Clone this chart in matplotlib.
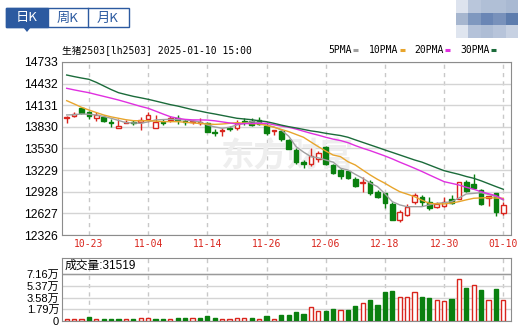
import numpy as np
import matplotlib.pyplot as plt
from matplotlib.patches import Rectangle, Polygon

plt.rcParams['font.family'] = ['Liberation Sans', 'Noto Sans CJK SC', 'DejaVu Sans']

# trading days shown (2024-10-18 .. 2025-01-10)
dates = ['10-18', '10-21', '10-22', '10-23', '10-24', '10-25', '10-28', '10-29', '10-30', '10-31',
         '11-01', '11-04', '11-05', '11-06', '11-07', '11-08', '11-11', '11-12', '11-13', '11-14',
         '11-15', '11-18', '11-19', '11-20', '11-21', '11-22', '11-25', '11-26', '11-27', '11-28',
         '11-29', '12-02', '12-03', '12-04', '12-05', '12-06', '12-09', '12-10', '12-11', '12-12',
         '12-13', '12-16', '12-17', '12-18', '12-19', '12-20', '12-23', '12-24', '12-25', '12-26',
         '12-27', '12-30', '12-31', '01-02', '01-03', '01-06', '01-07', '01-08', '01-09', '01-10']
tick_dates = ['10-23', '11-04', '11-14', '11-26', '12-06', '12-18', '12-30', '01-10']

opens = [13950, 13985, 14090, 14040, 13960, 13965, 13905, 13812, 13890, 13900,
         13895, 13935, 13815, 13900, 13920, 13950, 13915, 13895, 13885, 13880,
         13760, 13770, 13810, 13815, 13910, 13915, 13920, 13843, 13770, 13770,
         13650, 13510, 13335, 13310, 13390, 13555, 13300, 13230, 13210, 13100,
         13045, 13070, 12930, 12905, 12760, 12535, 12605, 12790, 12860, 12790,
         12720, 12735, 12830, 12830, 13070, 13035, 12955, 12835, 12905, 12630]
highs = [13975, 14040, 14100, 14053, 14040, 13990, 13935, 13936, 13920, 13920,
         13964, 14033, 14000, 13940, 13975, 14000, 13935, 13925, 13950, 13895,
         13800, 13810, 13840, 13930, 13955, 13950, 13965, 13900, 13790, 13790,
         13660, 13535, 13370, 13530, 13490, 13560, 13310, 13250, 13220, 13130,
         13130, 13090, 12950, 12910, 12780, 12680, 12760, 12910, 12880, 12860,
         12790, 12850, 12880, 13070, 13090, 13180, 12960, 12870, 12910, 12780]
lows = [13880, 13970, 14010, 13944, 13917, 13900, 13825, 13812, 13880, 13850,
        13787, 13903, 13815, 13850, 13905, 13870, 13850, 13865, 13860, 13755,
        13705, 13710, 13770, 13790, 13860, 13845, 13850, 13715, 13715, 13640,
        13520, 13320, 13255, 13290, 13340, 13300, 13170, 13100, 13110, 12990,
        12930, 12880, 12840, 12700, 12530, 12500, 12590, 12760, 12730, 12680,
        12700, 12710, 12760, 12820, 12920, 12970, 12750, 12730, 12590, 12610]
closes = [13965, 14010, 14020, 13975, 14000, 13913, 13890, 13843, 13903, 13880,
          13925, 13995, 13903, 13880, 13955, 13925, 13905, 13912, 13905, 13765,
          13750, 13780, 13800, 13890, 13895, 13860, 13875, 13740, 13790, 13655,
          13520, 13345, 13320, 13425, 13465, 13310, 13185, 13145, 13115, 13010,
          13070, 12910, 12860, 12770, 12535, 12650, 12720, 12880, 12790, 12700,
          12760, 12780, 12770, 13060, 12935, 12985, 12760, 12870, 12650, 12740]

ma5 = [13996, 14000, 14010, 14005, 13996, 13975, 13950, 13920, 13889, 13885,
       13880, 13900, 13927, 13932, 13936, 13930, 13927, 13915, 13900, 13857,
       13830, 13811, 13825, 13857, 13880, 13903, 13890, 13857, 13830, 13787,
       13700, 13555, 13480, 13416, 13400, 13370, 13340, 13255, 13231, 13170,
       13115, 13050, 12999, 12900, 12790, 12745, 12720, 12720, 12720, 12745,
       12767, 12775, 12790, 12840, 12897, 12905, 12915, 12890, 12860, 12813]
ma10 = [14195, 14150, 14103, 14065, 14030, 13996, 13970, 13950, 13930, 13917,
        13915, 13917, 13910, 13903, 13903, 13903, 13895, 13885, 13878, 13871,
        13865, 13870, 13880, 13889, 13882, 13875, 13871, 13850, 13825, 13795,
        13764, 13725, 13686, 13620, 13555, 13495, 13439, 13416, 13346, 13300,
        13230, 13162, 13100, 13046, 12985, 12929, 12895, 12860, 12810, 12767,
        12760, 12758, 12770, 12790, 12815, 12837, 12842, 12846, 12840, 12837]
ma20 = [14367, 14345, 14325, 14306, 14280, 14255, 14230, 14204, 14175, 14145,
        14115, 14089, 14050, 14010, 13972, 13950, 13935, 13928, 13927, 13925,
        13915, 13900, 13885, 13871, 13875, 13878, 13880, 13880, 13860, 13842,
        13825, 13800, 13770, 13741, 13715, 13686, 13660, 13640, 13611, 13570,
        13533, 13500, 13463, 13426, 13385, 13340, 13298, 13255, 13210, 13162,
        13115, 13068, 13045, 13022, 12990, 12962, 12929, 12900, 12874, 12820]
ma30 = [14552, 14530, 14510, 14492, 14450, 14400, 14350, 14306, 14280, 14255,
        14235, 14214, 14190, 14165, 14140, 14120, 14095, 14070, 14050, 14028,
        14010, 13990, 13970, 13950, 13940, 13930, 13915, 13903, 13880, 13855,
        13833, 13815, 13795, 13775, 13760, 13741, 13725, 13710, 13686, 13650,
        13615, 13580, 13545, 13509, 13475, 13440, 13405, 13370, 13340, 13300,
        13260, 13221, 13195, 13170, 13140, 13115, 13080, 13040, 13000, 12962]

volume = [2570, 2570, 2570, 5650, 2570, 2570, 2570, 2570, 2570, 2570,
          4100, 5140, 2570, 2570, 3080, 4100, 4100, 5140, 4100, 7200,
          4100, 2570, 3080, 5140, 4630, 5140, 3080, 7200, 3600, 8740,
          8740, 13360, 10280, 22100, 15420, 14900, 18000, 17480, 16450, 22600,
          27750, 31870, 24160, 44200, 45750, 37520, 37520, 45230, 36500, 34950,
          31870, 30330, 33410, 63740, 50370, 55000, 47290, 31870, 48830, 31519]
# 1 = red (up) volume bar, 0 = green
vol_up = [1, 1, 1, 0, 1, 0, 0, 0, 1, 0,
          1, 1, 0, 0, 1, 0, 0, 1, 0, 0,
          0, 1, 1, 1, 1, 0, 1, 0, 1, 0,
          0, 0, 0, 1, 1, 0, 0, 1, 0, 0,
          1, 0, 0, 0, 0, 1, 1, 1, 0, 0,
          1, 1, 0, 1, 0, 1, 0, 1, 0, 1]

price_ticks = [12326, 12627, 12928, 13229, 13530, 13830, 14131, 14432, 14733]
vol_ticks = [0, 17900, 35800, 53700, 71600]
vol_labels = ['0', '1.79万', '3.58万', '5.37万', '7.16万']

RED = '#d9251d'
GREEN = '#0a800f'
mono = ['DejaVu Sans Mono', 'Noto Sans CJK SC']

fig = plt.figure(figsize=(5.21, 3.27), dpi=100)
W, H = 521, 327

# full-figure overlay for tabs and header decorations (pixel coords)
deco = fig.add_axes([0, 0, 1, 1], zorder=5)
deco.set_xlim(0, W)
deco.set_ylim(H, 0)
deco.axis('off')
deco.add_patch(Rectangle((6, 8), 123, 19, facecolor='white', edgecolor='#2c5aa0', lw=1))
deco.add_patch(Rectangle((6, 8), 42, 19, facecolor='#2c5aa0', edgecolor='#2c5aa0', lw=1))
deco.add_patch(Polygon([[23, 27], [31, 27], [27, 32]], closed=True, facecolor='#2c5aa0', edgecolor='none'))
deco.plot([88, 88], [8, 27], color='#2c5aa0', lw=1)
for x, t, c in [(27, '日K', 'white'), (68, '周K', '#2c5aa0'), (108, '月K', '#2c5aa0')]:
    deco.text(x, 18, t, color=c, fontsize=9.5, ha='center', va='center', family=['Noto Sans CJK SC'])
deco.text(62, 50, '生猪2503[lh2503] 2025-01-10 15:00', fontsize=7, family=mono, va='center', ha='left')
legend_items = [('5PMA', '#a0a0a0', 328), ('10PMA', '#e8a52c', 369), ('20PMA', '#e030e0', 414), ('30PMA', '#1b6b3a', 460)]
for name, col, x in legend_items:
    deco.text(x, 50, name, fontsize=7, family=mono, va='center', ha='left')
    tx = x + len(name) * 5.85 + 2
    deco.plot([tx, tx + 5], [50, 50], color=col, lw=2.2, solid_capstyle='butt')

# blurred thumbnail at top right
blur = np.array([[[221, 227, 238], [185, 198, 219], [176, 191, 214], [176, 191, 214], [169, 185, 210]],
                 [[166, 182, 207], [127, 152, 191], [106, 134, 181], [120, 145, 187], [93, 124, 173]],
                 [[223, 229, 239], [180, 194, 217], [174, 189, 213], [183, 196, 218], [199, 209, 226]]]) / 255
tb = fig.add_axes([456 / W, 1 - 38 / H, 62 / W, 38 / H], zorder=4)
tb.imshow(blur, aspect='auto', interpolation='nearest')
tb.axis('off')

# main candle chart
ax = fig.add_axes([62 / W, 1 - 235 / H, 449 / W, 173 / H])
x = np.arange(len(dates))
o, h, l, c = map(np.array, (opens, highs, lows, closes))
up = c >= o
ax.vlines(x, l, h, colors=np.where(up, RED, GREEN), lw=1, zorder=3)
body_lo = np.minimum(o, c)
body_h = np.maximum(np.abs(c - o), 10)
ax.bar(x[up], body_h[up], bottom=body_lo[up], width=0.62, facecolor='white', edgecolor=RED, lw=1, zorder=4)
ax.bar(x[~up], body_h[~up], bottom=body_lo[~up], width=0.62, facecolor=GREEN, edgecolor=GREEN, lw=1, zorder=4)
for series, (name, col, _) in zip([ma5, ma10, ma20, ma30], legend_items):
    ax.plot(x, series, color=col, lw=1, zorder=5)

ax.text(0.5, 0.45, '东方财富', transform=ax.transAxes, fontsize=24, fontweight='bold', color='#eeeeee',
        ha='center', va='center', family=['Noto Sans CJK SC'], zorder=1)

tick_pos = [dates.index(d) for d in tick_dates]
ax.set_xlim(-0.635, 60.04)
ax.set_ylim(price_ticks[0], price_ticks[-1])
ax.set_yticks(price_ticks)
ax.set_yticklabels([str(v) for v in price_ticks], fontsize=8.7)
ax.set_xticks(tick_pos)
ax.set_xticklabels(tick_dates, fontsize=7, color=RED, family=mono)
ax.tick_params(length=0, pad=3)
ax.grid(axis='y', color='#d4d4d4', lw=1)
ax.grid(axis='x', color='#c8c8c8', lw=1, ls=(0, (3, 3)))
ax.set_axisbelow(True)
for s in ax.spines.values():
    s.set_color('#8c8c8c')

# volume panel
vax = fig.add_axes([62 / W, 6 / H, 449 / W, 63 / H])
v = np.array(volume)
vu = np.array(vol_up) == 1
vax.bar(x[vu], v[vu], width=0.55, facecolor='white', edgecolor=RED, lw=1, zorder=3)
vax.bar(x[~vu], v[~vu], width=0.55, facecolor=GREEN, edgecolor=GREEN, lw=1, zorder=3)
vax.set_xlim(-0.635, 60.04)
vax.set_ylim(0, 96750)
vax.set_yticks(vol_ticks)
vax.set_yticklabels(vol_labels, fontsize=8)
vax.set_xticks(tick_pos)
vax.set_xticklabels([])
vax.tick_params(length=0, pad=2)
vax.grid(axis='y', color='#d4d4d4', lw=1)
vax.grid(axis='x', color='#c8c8c8', lw=1, ls=(0, (3, 3)))
vax.set_axisbelow(True)
vax.axhline(vol_ticks[-1], color='#9a9a9a', lw=1, zorder=2)
for s in vax.spines.values():
    s.set_color('#8c8c8c')
vax.text(0.005, 0.87, '成交量:' + str(volume[-1]), transform=vax.transAxes, fontsize=8.5,
         va='center', ha='left')

fig.savefig('out.png', dpi=100)
